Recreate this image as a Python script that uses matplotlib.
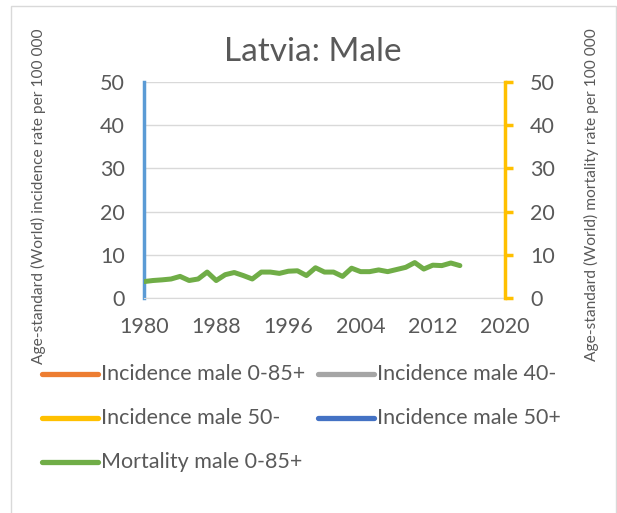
import matplotlib
matplotlib.use("Agg")
import matplotlib.pyplot as plt
import matplotlib.patches as patches
from matplotlib.lines import Line2D

plt.rcParams['font.family'] = ['Lato', 'DejaVu Sans']

# Veriler
yillar = list(range(1980, 2016))
mortalite_erkek = [3.8, 4.05, 4.2, 4.4, 5.0, 4.05, 4.4, 6.0, 4.05, 5.4,
                   5.9, 5.2, 4.4, 6.0, 6.0, 5.7, 6.2, 6.3, 5.2, 7.0,
                   6.0, 6.0, 5.0, 6.9, 6.1, 6.1, 6.5, 6.1, 6.6, 7.1,
                   8.2, 6.7, 7.6, 7.5, 8.1, 7.5]
x_tikler = [1980, 1988, 1996, 2004, 2012, 2020]
y_tikler = [0, 10, 20, 30, 40, 50]

seri_adlari = ['Incidence male 0-85+', 'Incidence male 40-', 'Incidence male 50-',
               'Incidence male 50+', 'Mortality male 0-85+']
seri_renkleri = ['#ED7D31', '#A5A5A5', '#FFC000', '#4472C4', '#70AD47']

gri = '#595959'
W, H = 617, 513

fig = plt.figure(figsize=(6.17, 5.13), dpi=100)
fig.patch.set_facecolor('white')

# Grafik alanı çerçevesi
fig.patches.append(patches.Rectangle((11 / W, -0.05), (616 - 11) / W, 1.05 - 6 / H,
                                     transform=fig.transFigure, fill=False,
                                     edgecolor='#D9D9D9', linewidth=1.0))

ax = fig.add_axes([144 / W, 1 - 298 / H, (505 - 144) / W, (298 - 82) / H])
ax2 = ax.twinx()

ax.set_xlim(1980, 2020)
ax.set_ylim(0, 50)
ax2.set_ylim(0, 50)
ax.set_xticks(x_tikler)
ax.set_yticks(y_tikler)
ax2.set_yticks(y_tikler)

ax.grid(axis='y', color='#D9D9D9', linewidth=1.0)
ax.set_axisbelow(True)

ax2.plot(yillar, mortalite_erkek, color=seri_renkleri[4], linewidth=3.6,
         solid_joinstyle='round', solid_capstyle='round', zorder=3)

ax.spines['top'].set_visible(False)
ax2.spines['top'].set_visible(False)
ax.spines['bottom'].set_color('#D9D9D9')
ax2.spines['bottom'].set_visible(False)
ax.spines['left'].set_color('#5B9BD5')
ax.spines['left'].set_linewidth(2.5)
ax.spines['right'].set_visible(False)
ax2.spines['left'].set_visible(False)
ax2.spines['right'].set_color('#FFC000')
ax2.spines['right'].set_linewidth(2.5)

ax.tick_params(axis='both', length=0, labelsize=15.5, labelcolor=gri)
ax.tick_params(axis='y', pad=14)
ax.tick_params(axis='x', pad=14)
ax2.tick_params(axis='y', length=6, width=2.5, color='#FFC000', direction='out',
                labelsize=15.5, labelcolor=gri, pad=12)

fig.text(313 / W, 1 - 52 / H, 'Latvia: Male', ha='center', va='center',
         fontsize=24, color=gri)

fig.text(38 / W, 1 - 196 / H, 'Age-standard (World) incidence rate per 100 000',
         rotation=90, ha='center', va='center', fontsize=11.2, color=gri)
fig.text(591 / W, 1 - 195 / H, 'Age-standard (World) mortality rate per 100 000',
         rotation=90, ha='center', va='center', fontsize=11.2, color=gri)

# Lejant (elle yerleştirildi)
sira = [0, 1, 2, 3, 4]
konumlar = [(42, 374), (318, 374), (42, 418), (318, 418), (42, 462)]
for i, (lx, ly) in zip(sira, konumlar):
    fig.add_artist(Line2D([lx / W, (lx + 56) / W], [1 - ly / H, 1 - ly / H],
                          transform=fig.transFigure, color=seri_renkleri[i],
                          linewidth=3.8, solid_capstyle='round'))
    fig.text((lx + 59) / W, 1 - ly / H, seri_adlari[i], ha='left', va='center',
             fontsize=15.5, color=gri)

fig.savefig('out.png', dpi=100)
